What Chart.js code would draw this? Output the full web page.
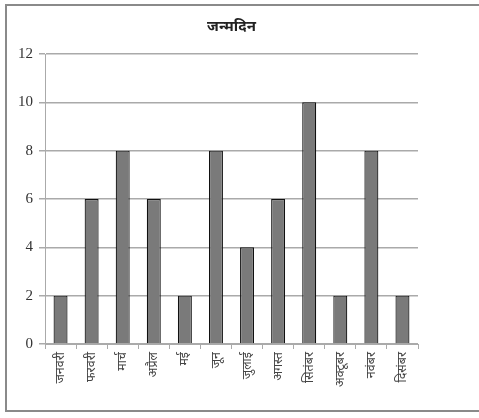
<!DOCTYPE html>
<html>
<head>
<meta charset="utf-8">
<script src="https://cdn.jsdelivr.net/npm/chart.js@4/dist/chart.umd.min.js"></script>
<style>
  html, body { margin: 0; padding: 0; background: #fff; }
  #wrap { width: 479px; height: 418px; }
</style>
</head>
<body>
<div id="wrap"><canvas id="chart" width="479" height="418"></canvas></div>
<script>
// data
var months = ["जनवरी", "फरवरी", "मार्च", "अप्रैल", "मई", "जून", "जुलाई", "अगस्त", "सितंबर", "अक्टूबर", "नवंबर", "दिसंबर"];
var birthdays = [2, 6, 8, 6, 2, 8, 4, 6, 10, 2, 8, 2];
var yTicks = [0, 2, 4, 6, 8, 10, 12];

// frame round the picture
var framePlugin = {
    id: 'frame',
    beforeDraw: function(chart){
        var ctx = chart.ctx;
        ctx.save();
        ctx.fillStyle = '#fff';
        ctx.fillRect(0, 0, chart.width, chart.height);
        ctx.strokeStyle = '#8a8a8a';
        ctx.lineWidth = 2;
        ctx.strokeRect(6, 5, chart.width + 10, 406);
        ctx.restore();
    }
};

new Chart(document.getElementById("chart"), {
    type: 'bar',
    data: {
      labels: months,
      datasets: [
        {
          backgroundColor: "#7a7a7a",
          borderColor: "#111",
          borderWidth: 1.2,
          barPercentage: 0.45,
          categoryPercentage: 1,
          data: birthdays
        }
      ]
    },
    options: {
        responsive: false,
        animation: false,
        layout: { padding: { top: 16, right: 61, left: 0, bottom: 0 } },
        plugins: {
            legend: { display: false },
            tooltip: { enabled: false },
            title: {
                display: true,
                text: 'जन्मदिन',
                fullSize: false,
                color: '#222',
                font: { family: "'Noto Sans', 'DejaVu Sans', serif", size: 15, weight: 'bold' },
                padding: { top: 2, bottom: 18 }
            }
        },
        scales: {
            x: {
                grid: { display: true, drawOnChartArea: false, drawTicks: true, tickLength: 5, offset: true, color: '#aaa' },
                border: { color: '#aaa', width: 1 },
                ticks: {
                    color: '#444',
                    maxRotation: 90,
                    minRotation: 90,
                    padding: 3,
                    font: { family: "'Noto Sans', 'DejaVu Sans', sans-serif", size: 12.5 }
                },
                afterFit: function(scale){ scale.height = 74; }
            },
            y: {
                min: 0,
                max: 12,
                afterBuildTicks: function(scale){
                    scale.ticks = yTicks.map(function(v){ return { value: v }; });
                },
                grid: { color: '#aaa', lineWidth: 1.5, drawTicks: true, tickLength: 6 },
                border: { color: '#aaa', width: 1 },
                ticks: {
                    color: '#333',
                    padding: 6,
                    font: { family: "'Liberation Serif', serif", size: 15 }
                },
                afterFit: function(scale){ scale.width = 45; }
            }
        }
    },
    plugins: [framePlugin]
});
</script>
</body>
</html>
